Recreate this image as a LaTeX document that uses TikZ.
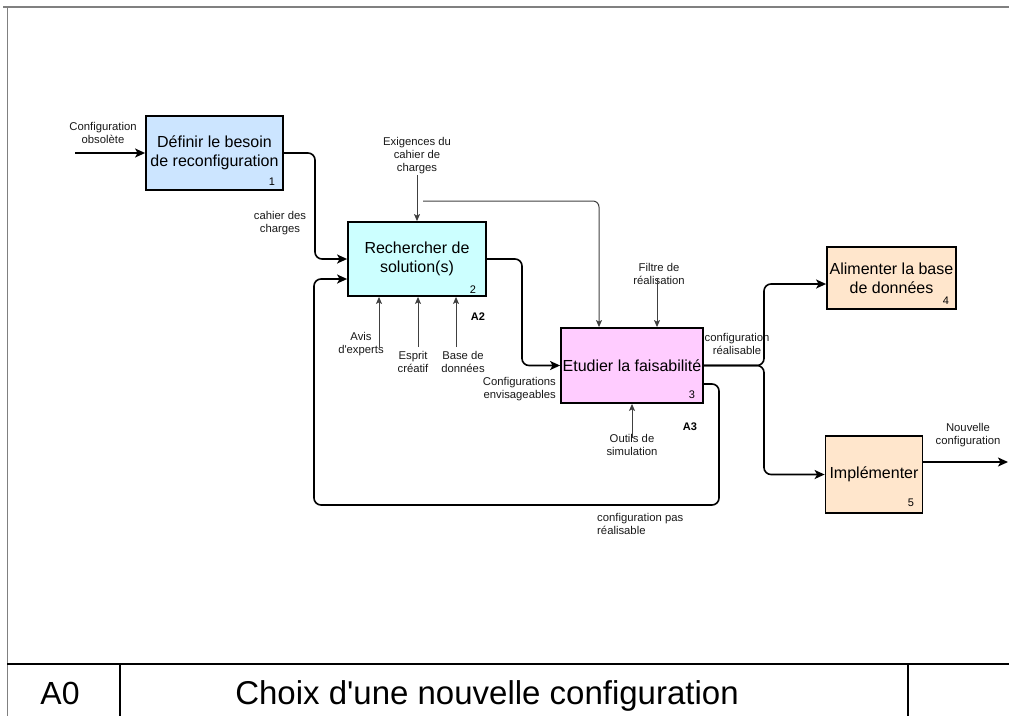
\documentclass[tikz,border=0pt]{standalone}
\usepackage{fontspec}
\setmainfont{Liberation Sans}
\usetikzlibrary{arrows.meta}
\definecolor{c1}{HTML}{CCE5FF}
\definecolor{c2}{HTML}{CCFFFF}
\definecolor{c3}{HTML}{FFCCFF}
\definecolor{c4}{HTML}{FFE6CC}
\definecolor{thin}{HTML}{404040}
\tikzset{
  box/.style={draw=black, line width=1.8pt, align=center, inner sep=0pt,
    font=\fontsize{16}{19}\selectfont},
  num/.style={font=\fontsize{11}{13}\selectfont, inner sep=0pt},
  lbl/.style={font=\fontsize{11.3}{13}\selectfont, align=center, inner sep=0pt, text=black!90},
  blbl/.style={font=\bfseries\fontsize{11}{13}\selectfont, inner sep=0pt},
  mainarrow/.style={line width=1.6pt, rounded corners=7pt, -{Stealth[length=10pt,width=9pt,inset=2.5pt]}},
  thinarrow/.style={line width=1pt, draw=thin, rounded corners=6pt, -{Stealth[length=7pt,width=6pt,inset=1.5pt]}},
  foot/.style={font=\fontsize{32}{36}\selectfont, anchor=base},
}
\begin{document}
\begin{tikzpicture}[x=1pt,y=-1pt]
\useasboundingbox (0,0) rectangle (1009,716);
% frame
\draw[gray, line width=1.5pt] (3,7) -- (1009,7);
\draw[gray, line width=1pt] (7,7) -- (7,716);
\draw[line width=1.2pt] (7,664) -- (1009,664);
\draw[line width=1.2pt] (120,664) -- (120,716);
\draw[line width=1.2pt] (908,664) -- (908,716);
\node[foot] (a0) at (60,704) {A0};
\node[foot, font=\fontsize{33}{36}\selectfont] (title) at (487,704) {Choix d\textquotesingle une nouvelle configuration};

% boxes
\node[box, fill=c1, minimum width=137pt, minimum height=74pt] (b1) at (214.5,153) {Définir le besoin\\de reconfiguration};
\node[box, fill=c2, minimum width=138pt, minimum height=74pt] (b2) at (417,259) {Rechercher de\\solution(s)};
\node[box, fill=c3, minimum width=142pt, minimum height=75pt] (b3) at (632,365.5) {Etudier la faisabilité};
\node[box, fill=c4, minimum width=129pt, minimum height=62pt] (b4) at (891.5,278) {Alimenter la base\\de données};
\node[box, fill=c4, minimum width=97pt, minimum height=77pt] (b5) at (874,474.5) {Implémenter};

\node[num] (n1) at (272,182) {1};
\node[num] (n2) at (473,290) {2};
\node[num] (n3) at (692,395) {3};
\node[num] (n4) at (946,301) {4};
\node[num] (n5) at (911,503) {5};

\node[blbl] (a2) at (478,317) {A2};
\node[blbl] (a3) at (690,427) {A3};

% labels
\node[lbl] (lobs) at (103,132.5) {Configuration\\obsolète};
\node[lbl] (lcdc) at (280,223) {cahier des\\charges};
\node[lbl] (lexi) at (417,155.5) {Exigences du\\cahier de\\charges};
\node[lbl] (lavis) at (361,344) {Avis\\d\textquotesingle experts};
\node[lbl] (lesp) at (413,361.5) {Esprit\\créatif};
\node[lbl] (lbase) at (463,361.5) {Base de\\données};
\node[lbl, align=right, anchor=east] (lenv) at (556,389) {Configurations\\envisageables};
\node[lbl] (lfil) at (659,273.5) {Filtre de\\réalisation};
\node[lbl] (lout) at (632,444.5) {Outils de\\simulation};
\node[lbl] (lreal) at (737,343.5) {configuration\\réalisable};
\node[lbl, align=left, anchor=west] (lpas) at (597,523.5) {configuration pas\\réalisable};
\node[lbl] (lnouv) at (968,435.5) {Nouvelle\\configuration};

% free ends
\coordinate (in1) at (75,153);
\coordinate (out5) at (1008,462);
\coordinate (exi) at (417,175);
\coordinate (exi2) at (423,201);
\coordinate (fil) at (657,278);
\coordinate (outi) at (632,438);
\coordinate (avis) at (379,347);
\coordinate (esp) at (418,347);
\coordinate (base) at (456,347);

% main connectors
\draw[mainarrow] (in1) -- (b1.west);
\draw[mainarrow] (b1.east) -- (315,153) -- (315,259) -- (b2.west);
\draw[mainarrow] (b2.east) -- (522,259) -- (522,365.5) -- (b3.west);
\draw[mainarrow] (b3.east) -- (764,365.5) -- (764,284) -- (b4.west |- 0,284);
\draw[mainarrow] (b3.east) -- (764,365.5) -- (764,474.5) -- (b5.west);
\draw[mainarrow] (b3.east |- 0,384) -- (719,384) -- (719,505) -- (314,505) -- (314,279) -- (b2.west |- 0,279);
\draw[mainarrow] (b5.east |- 0,462) -- (out5);

% thin connectors
\draw[thinarrow] (exi) -- (b2.north);
\draw[thinarrow] (exi2) -- (599,201) -- (b3.north -| 599,0);
\draw[thinarrow] (fil) -- (b3.north -| 657,0);
\draw[thinarrow] (outi) -- (b3.south);
\draw[thinarrow] (avis) -- (b2.south -| 379,0);
\draw[thinarrow] (esp) -- (b2.south -| 418,0);
\draw[thinarrow] (base) -- (b2.south -| 456,0);
\end{tikzpicture}
\end{document}
